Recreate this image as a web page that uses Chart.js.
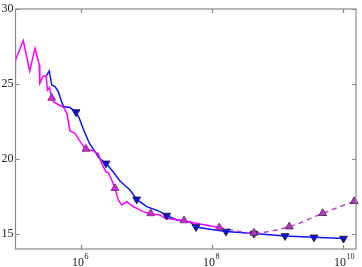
<!DOCTYPE html>
<html>
<head>
<meta charset="utf-8">
<script src="https://cdn.jsdelivr.net/npm/chart.js@4"></script>
<style>
  body { margin: 0; background: #fff; }
  #wrap { width: 362px; height: 267px; }
</style>
</head>
<body>
<div id="wrap"><canvas id="chart"></canvas></div>
<script>
// magenta solid curve
const magX = [0.98e5, 1.0e5, 1.315e5, 1.648e5, 1.986e5, 2.307e5, 2.35e5, 2.612e5, 2.924e5, 3.083e5, 3.304e5,
  3.573e5, 3.802e5, 4.613e5, 5.495e5, 6.109e5, 6.792e5, 8.091e5, 9.661e5, 1.191e6, 1.524e6, 1.837e6,
  2.07e6, 2.41e6, 2.612e6, 2.944e6, 3.304e6, 3.715e6, 4.178e6, 4.989e6, 6.281e6, 8.933e6, 1.159e7,
  1.607e7, 1.914e7, 2.564e7, 3.741e7, 6.561e7, 1.291e8];
const magY = [23.5, 26.6, 27.9, 25.87, 27.38, 26.27, 25.05, 25.49, 25.57, 24.6, 24.77,
  24.07, 23.82, 23.6, 23.43, 23.0, 21.87, 21.71, 21.17, 20.63, 20.57, 20.33,
  19.7, 19.13, 19.1, 18.6, 18.05, 17.27, 16.93, 17.15, 16.82, 16.49, 16.33,
  16.27, 16.05, 15.98, 15.89, 15.67, 15.43];

// magenta triangle markers
const magMarkX = [3.573e5, 1.191e6, 3.304e6, 1.159e7, 3.741e7, 1.291e8];
const magMarkY = [24.07, 20.67, 18.05, 16.37, 15.9, 15.43];

// dashed extrapolation
const dashX = [1.291e8, 4.375e8, 1.514e9, 4.898e9, 1.486e10];
const dashY = [15.43, 15.07, 15.49, 16.38, 17.18];

// blue curve
const blueX = [2.972e5, 3.281e5, 3.573e5, 4.009e5, 4.498e5, 4.955e5, 5.408e5, 6.792e5, 8.395e5, 9.419e5,
  1.084e6, 1.34e6, 1.637e6, 1.901e6, 2.41e6, 3.112e6, 3.936e6, 5.598e6, 7.079e6, 1.007e7,
  1.607e7, 2.032e7, 2.891e7, 4.613e7, 5.702e7, 9.311e7, 1.637e8, 4.375e8, 1.303e9, 3.606e9, 1.018e10];
const blueY = [25.57, 25.87, 24.93, 24.83, 24.49, 23.93, 23.5, 23.43, 23.13, 22.71,
  22.0, 21.05, 20.49, 20.05, 19.71, 19.13, 18.53, 17.93, 17.31, 16.82,
  16.49, 16.23, 15.93, 15.8, 15.47, 15.31, 15.17, 15.03, 14.87, 14.78, 14.70];

// blue triangle markers
const blueMarkX = [8.395e5, 2.41e6, 7.079e6, 2.032e7, 5.702e7, 1.637e8, 4.375e8, 1.303e9, 3.606e9, 1.018e10];
const blueMarkY = [23.13, 19.71, 17.31, 16.23, 15.47, 15.17, 15.03, 14.87, 14.78, 14.70];

const xTicks = [1e6, 1e8, 1e10];
const xTickExp = ['6', '8', '10'];
const yTicks = [15, 20, 25, 30];

function pts(xs, ys) {
  return xs.map((x, i) => ({ x: x, y: ys[i] }));
}

// 축 박스, 안쪽 눈금, 라벨
const axisBox = {
  id: 'axisBox',
  afterDraw(chart) {
    const c = chart.ctx;
    const a = chart.chartArea;
    const xs = chart.scales.x, ys = chart.scales.y;
    c.save();
    c.strokeStyle = '#888';
    c.lineWidth = 1.2;
    c.strokeRect(a.left, a.top, a.right - a.left, a.bottom - a.top);
    c.beginPath();
    xTicks.forEach(v => {
      const px = Math.round(xs.getPixelForValue(v)) + 0.5;
      c.moveTo(px, a.bottom); c.lineTo(px, a.bottom - 4);
      c.moveTo(px, a.top); c.lineTo(px, a.top + 4);
    });
    yTicks.forEach(v => {
      const py = Math.round(ys.getPixelForValue(v)) + 0.5;
      c.moveTo(a.left, py); c.lineTo(a.left + 4, py);
      c.moveTo(a.right, py); c.lineTo(a.right - 4, py);
    });
    c.stroke();

    c.fillStyle = '#222';
    c.font = '12px "Liberation Serif", serif';
    c.textAlign = 'right';
    c.textBaseline = 'middle';
    yTicks.forEach(v => {
      c.fillText(String(v), a.left - 2, ys.getPixelForValue(v));
    });
    xTicks.forEach((v, i) => {
      const px = xs.getPixelForValue(v);
      c.font = '12px "Liberation Serif", serif';
      c.textAlign = 'right';
      c.textBaseline = 'alphabetic';
      c.fillText('10', px + 3, a.bottom + 17);
      c.font = '8px "Liberation Serif", serif';
      c.textAlign = 'left';
      c.fillText(xTickExp[i], px + 3.5, a.bottom + 10);
    });
    c.restore();
  }
};

const ctx = document.getElementById('chart').getContext('2d');
new Chart(ctx, {
  type: 'scatter',
  data: {
    datasets: [
      {
        data: pts(magMarkX, magMarkY),
        pointStyle: 'triangle',
        pointRadius: 4.5,
        backgroundColor: '#e01ee0',
        borderColor: '#7a3a7a',
        borderWidth: 1,
        showLine: false,
        order: 0
      },
      {
        data: pts(dashX.slice(1), dashY.slice(1)),
        pointStyle: 'triangle',
        pointRadius: 4.5,
        backgroundColor: '#b040b8',
        borderColor: '#5a2a5a',
        borderWidth: 1,
        showLine: false,
        clip: false,
        order: 1
      },
      {
        data: pts(blueMarkX, blueMarkY),
        pointStyle: 'triangle',
        rotation: 180,
        pointRadius: 4.5,
        backgroundColor: '#1010e8',
        borderColor: '#202050',
        borderWidth: 1,
        showLine: false,
        order: 2
      },
      {
        data: pts(magX, magY),
        showLine: true,
        borderColor: '#ff00ff',
        borderWidth: 1.5,
        pointRadius: 0,
        order: 3
      },
      {
        data: pts(dashX, dashY),
        showLine: true,
        borderColor: '#c040d0',
        borderWidth: 1.5,
        borderDash: [5, 4],
        cubicInterpolationMode: 'monotone',
        pointRadius: 0,
        order: 4
      },
      {
        data: pts(blueX, blueY),
        showLine: true,
        borderColor: '#0a14ff',
        borderWidth: 1.5,
        pointRadius: 0,
        order: 5
      }
    ]
  },
  options: {
    responsive: true,
    maintainAspectRatio: false,
    animation: false,
    layout: { padding: { left: 0, right: 6, top: 9, bottom: 0 } },
    plugins: {
      legend: { display: false },
      tooltip: { enabled: false }
    },
    scales: {
      x: {
        type: 'logarithmic',
        min: 1e5,
        max: 1.58e10,
        grid: { display: false },
        border: { display: false },
        ticks: { display: false },
        afterFit(scale) { scale.height = 18; }
      },
      y: {
        min: 14,
        max: 30,
        grid: { display: false },
        border: { display: false },
        ticks: { display: false },
        afterFit(scale) { scale.width = 15.5; }
      }
    }
  },
  plugins: [axisBox]
});
</script>
</body>
</html>
